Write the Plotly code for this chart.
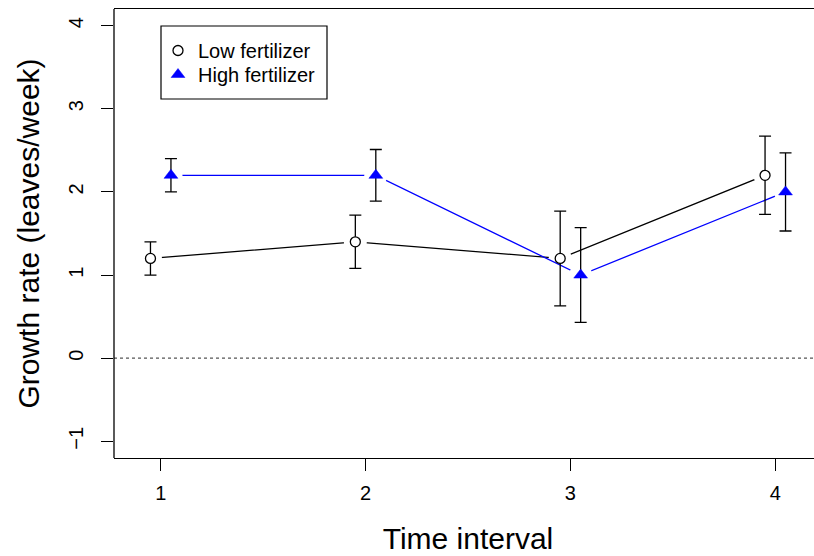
import plotly.graph_objects as go

# ---- data ----
interval = [1, 2, 3, 4]
offset = 0.05
low_mean = [1.2, 1.4, 1.2, 2.2]
low_err = [0.2, 0.32, 0.57, 0.47]
high_mean = [2.2, 2.2, 1.0, 2.0]
high_err = [0.2, 0.31, 0.57, 0.47]
series_names = ["Low fertilizer", "High fertilizer"]
x_ticks = [1, 2, 3, 4]
y_ticks = [-1, 0, 1, 2, 3, 4]

low_x = [v - offset for v in interval]
high_x = [v + offset for v in interval]

BLUE = "#0000FF"
FONT = "Liberation Sans, Arial, Helvetica, sans-serif"

fig = go.Figure()

# line + white halo (emulates R type="b" gaps)
fig.add_trace(go.Scatter(x=low_x, y=low_mean, mode="lines",
                         line=dict(color="black", width=1.3), showlegend=False, hoverinfo="skip"))
fig.add_trace(go.Scatter(x=low_x, y=low_mean, mode="markers",
                         marker=dict(symbol="circle", size=23, color="white", line=dict(width=0)),
                         showlegend=False, hoverinfo="skip"))
fig.add_trace(go.Scatter(x=high_x, y=high_mean, mode="lines",
                         line=dict(color=BLUE, width=1.3), showlegend=False, hoverinfo="skip"))
fig.add_trace(go.Scatter(x=high_x, y=high_mean, mode="markers",
                         marker=dict(symbol="circle", size=23, color="white", line=dict(width=0)),
                         showlegend=False, hoverinfo="skip"))

# markers with error bars
fig.add_trace(go.Scatter(x=low_x, y=low_mean, mode="markers", name=series_names[0],
                         legend="legend",
                         marker=dict(symbol="circle", size=10, color="white",
                                     line=dict(color="black", width=1.3)),
                         error_y=dict(type="data", array=low_err, visible=True,
                                      color="black", thickness=1.3, width=6)))
fig.add_trace(go.Scatter(x=high_x, y=high_mean, mode="markers", name=series_names[1],
                         legend="legend2",
                         marker=dict(symbol="triangle-up", size=12, color=BLUE,
                                     line=dict(color=BLUE, width=0.5)),
                         error_y=dict(type="data", array=high_err, visible=True,
                                      color="black", thickness=1.3, width=6)))

fig.add_shape(type="line", xref="paper", yref="y", x0=0, x1=1, y0=0, y1=0,
              line=dict(color="#555555", width=1.2, dash="dot"))

# figure placed at page origin (body margin removed in post_script);
# plot region extends a little past the right edge of the window, as in the reference
FW, FH = 822, 556
L, T, B = 114, 9, 458
R = 0
W = FW - L - R
H = B - T
def px(x): return (x - L) / W
def py(y): return (B - y) / H
# legend frame
fig.add_shape(type="rect", xref="paper", yref="paper",
              x0=px(161), x1=px(327), y0=py(99), y1=py(26),
              line=dict(color="black", width=1.2), fillcolor="rgba(0,0,0,0)")
# left frame edge
fig.add_shape(type="line", xref="paper", yref="paper", x0=0, x1=0, y0=0, y1=1,
              line=dict(color="black", width=1.3))

leg_common = dict(xanchor="left", yanchor="top", bgcolor="rgba(0,0,0,0)", borderwidth=0,
                  font=dict(family=FONT, size=20, color="black"), itemwidth=30)

fig.update_layout(
    width=FW, height=FH,
    margin=dict(l=L, r=R, t=T, b=FH - B, autoexpand=False),
    paper_bgcolor="white", plot_bgcolor="white",
    font=dict(family=FONT, size=20, color="black"),
    showlegend=True,
    legend=dict(x=px(158), y=py(31), **leg_common),
    legend2=dict(x=px(158), y=py(55), **leg_common),
    xaxis=dict(range=[0.772, 4.228], tickvals=x_ticks, ticktext=[str(v) for v in x_ticks],
               ticks="outside", ticklen=12, tickwidth=1, tickcolor="black",
               showline=True, mirror=True, linecolor="black", linewidth=1.3,
               showgrid=False, zeroline=False, ticklabelstandoff=5, automargin=False,
               tickfont=dict(family=FONT, size=20),
               title=dict(text="Time interval", font=dict(family=FONT, size=30), standoff=24)),
    yaxis=dict(range=[-1.2, 4.2], tickvals=y_ticks,
               ticktext=[("\u2212" + str(-v)) if v < 0 else str(v) for v in y_ticks],
               ticks="outside", ticklen=12, tickwidth=1, tickcolor="black",
               showline=False, mirror=False,
               showgrid=False, zeroline=False, tickangle=-90, ticklabelstandoff=10,
               automargin=False,
               tickfont=dict(family=FONT, size=20),
               title=dict(text="Growth rate (leaves/week)", font=dict(family=FONT, size=30), standoff=16)),
)

fig.write_html(
    "out.html",
    config={"displayModeBar": False},
    post_script=("document.body.style.margin='0';"
                 "document.body.style.overflow='hidden';"
                 "document.documentElement.style.overflow='hidden';"),
)
